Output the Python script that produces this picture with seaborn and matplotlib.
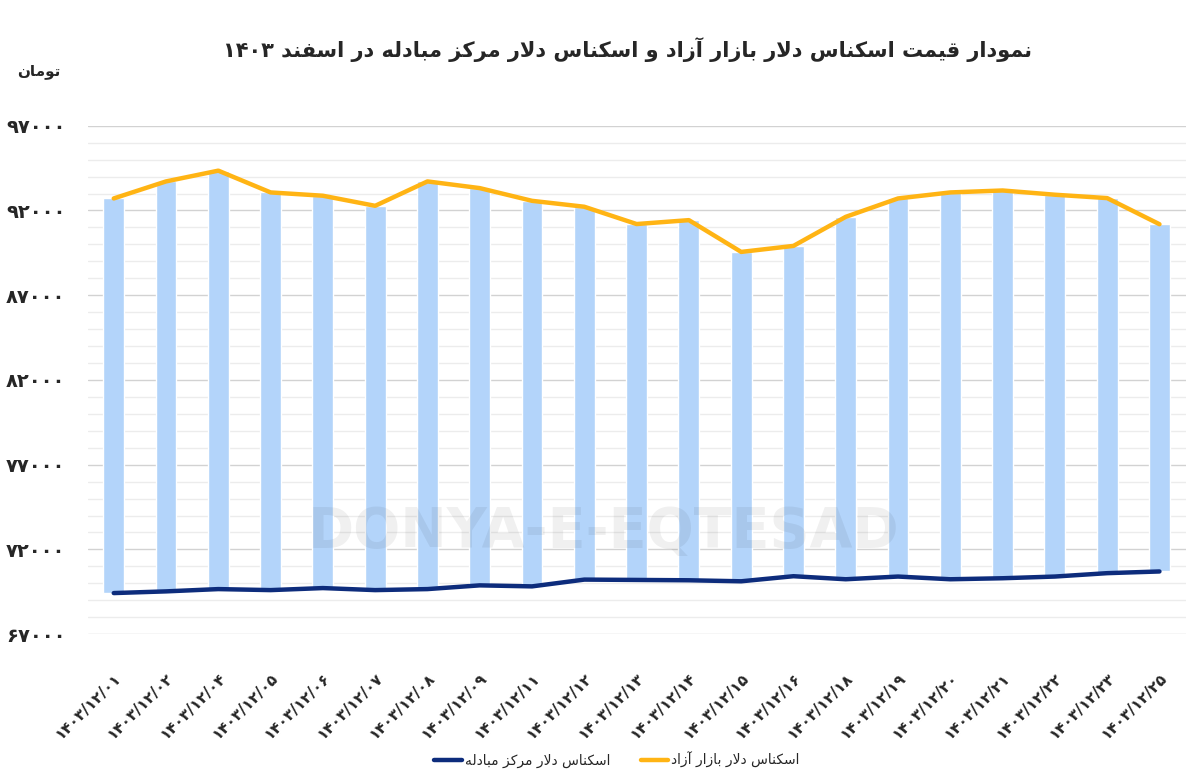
import re
import numpy as np
import pandas as pd
import matplotlib
matplotlib.use("Agg")
import matplotlib.pyplot as plt
import seaborn as sns

# data (toman)
dates = ["1403/12/01", "1403/12/02", "1403/12/04", "1403/12/05", "1403/12/06",
         "1403/12/07", "1403/12/08", "1403/12/09", "1403/12/11", "1403/12/12",
         "1403/12/13", "1403/12/14", "1403/12/15", "1403/12/16", "1403/12/18",
         "1403/12/19", "1403/12/20", "1403/12/21", "1403/12/22", "1403/12/23",
         "1403/12/25"]
free_market = [92710, 93715, 94350, 93065, 92870, 92275, 93715, 93320, 92570, 92220,
               91200, 91430, 89555, 89910, 91625, 92710, 93065, 93180, 92930, 92730,
               91190]
exchange_center = [69425, 69525, 69660, 69600, 69720, 69600, 69660, 69880, 69820, 70220,
                   70200, 70180, 70120, 70420, 70240, 70400, 70240, 70300, 70400, 70600,
                   70700]
y_ticks = [67000, 72000, 77000, 82000, 87000, 92000, 97000]

title = "نمودار قیمت اسکناس دلار بازار آزاد و اسکناس دلار مرکز مبادله در اسفند ۱۴۰۳"
unit = "تومان"
label_free = "اسکناس دلار بازار آزاد"
label_exch = "اسکناس دلار مرکز مبادله"

# --- tiny arabic shaper, matplotlib has no text shaping ---
FORMS = {
    '\u0622': ('\uFE81', '\uFE82', None, None),
    '\u0627': ('\uFE8D', '\uFE8E', None, None),
    '\u0628': ('\uFE8F', '\uFE90', '\uFE91', '\uFE92'),
    '\u062A': ('\uFE95', '\uFE96', '\uFE97', '\uFE98'),
    '\u062F': ('\uFEA9', '\uFEAA', None, None),
    '\u0631': ('\uFEAD', '\uFEAE', None, None),
    '\u0632': ('\uFEAF', '\uFEB0', None, None),
    '\u0633': ('\uFEB1', '\uFEB2', '\uFEB3', '\uFEB4'),
    '\u0641': ('\uFED1', '\uFED2', '\uFED3', '\uFED4'),
    '\u0642': ('\uFED5', '\uFED6', '\uFED7', '\uFED8'),
    '\u0644': ('\uFEDD', '\uFEDE', '\uFEDF', '\uFEE0'),
    '\u0645': ('\uFEE1', '\uFEE2', '\uFEE3', '\uFEE4'),
    '\u0646': ('\uFEE5', '\uFEE6', '\uFEE7', '\uFEE8'),
    '\u0647': ('\uFEE9', '\uFEEA', '\uFEEB', '\uFEEC'),
    '\u0648': ('\uFEED', '\uFEEE', None, None),
    '\u06A9': ('\uFB8E', '\uFB8F', '\uFB90', '\uFB91'),
    '\u06CC': ('\uFBFC', '\uFBFD', '\uFBFE', '\uFBFF'),
}
LAM_ALEF = {'\u0627': ('\uFEFB', '\uFEFC'), '\u0622': ('\uFEF5', '\uFEF6')}
FA_DIGITS = str.maketrans("0123456789", "۰۱۲۳۴۵۶۷۸۹")


def shape(text):
    res = []
    prev = False
    i = 0
    while i < len(text):
        c = text[i]
        nxt = text[i + 1] if i + 1 < len(text) else None
        if c == '\u0644' and nxt in LAM_ALEF:
            iso, fin = LAM_ALEF[nxt]
            res.append(fin if prev else iso)
            prev = False
            i += 2
            continue
        if c not in FORMS:
            res.append(c)
            prev = False
            i += 1
            continue
        iso, fin, ini, med = FORMS[c]
        fwd = ini is not None and nxt in FORMS
        if prev and fwd:
            res.append(med)
        elif prev:
            res.append(fin)
        elif fwd:
            res.append(ini)
        else:
            res.append(iso)
        prev = fwd
        i += 1
    s = "".join(res)[::-1]
    return re.sub(r"[\u06F0-\u06F9]+", lambda m: m.group(0)[::-1], s)


sns.set_style("white")
plt.rcParams["font.family"] = ["DejaVu Sans"]

df = pd.DataFrame({"date": [d.translate(FA_DIGITS) for d in dates],
                   "free": free_market, "exch": exchange_center})
df["spread"] = df["free"] - df["exch"]
x = np.arange(len(df))

fig = plt.figure(figsize=(12, 7.81), dpi=100)
ax = fig.add_axes([0.073, 0.188, 0.915, 0.651])

sns.barplot(data=df, x="date", y="spread", bottom=df["exch"], color="#B3D4FA",
            width=0.4, errorbar=None, saturation=1, ax=ax, zorder=2)
l_free = sns.lineplot(x=x, y=df["free"].values, color="#FFB414", lw=3.2, ax=ax, zorder=3).lines[-1]
l_exch = sns.lineplot(x=x, y=df["exch"].values, color="#0D2C7C", lw=3.2, ax=ax, zorder=3).lines[-1]

ax.set_ylim(67000, 97000)
ax.set_xlim(-0.5, len(df) - 0.5)
ax.set_yticks(y_ticks, labels=[str(v).translate(FA_DIGITS) for v in y_ticks],
              fontsize=14, fontweight="bold")
ax.set_yticks(np.arange(67000, 97001, 1000), minor=True)
ax.grid(axis="y", which="major", color="#d2d2d2", lw=1, zorder=0)
ax.grid(axis="y", which="minor", color="#ececec", lw=1, zorder=0)
ax.set_axisbelow(True)
ax.tick_params(axis="y", which="both", length=0, pad=16)
ax.set_xticks(x, labels=df["date"], rotation=45, ha="right", rotation_mode="anchor",
              fontsize=11, fontweight="bold")
ax.tick_params(axis="x", length=0, pad=26)
ax.set_xlabel("")
ax.set_ylabel("")
for s in ax.spines.values():
    s.set_visible(False)

# watermark
ax.text(0.47, 0.2, "DONYA-E-EQTESAD", transform=ax.transAxes, ha="center", va="center",
        fontsize=40, fontweight="bold", color="black", alpha=0.06, zorder=4)

fig.text(0.523, 0.936, shape(title), ha="center", va="center", fontsize=15, fontweight="bold")
fig.text(0.032, 0.908, shape(unit), ha="center", va="center", fontsize=11, fontweight="bold")

ax.legend([l_exch, l_free], [shape(label_exch), shape(label_free)], ncol=2,
          loc="center", bbox_to_anchor=(0.482, -0.247), frameon=False, fontsize=10,
          handlelength=2.0, handletextpad=0.2, columnspacing=2.2)

fig.savefig("out.png", dpi=100)
